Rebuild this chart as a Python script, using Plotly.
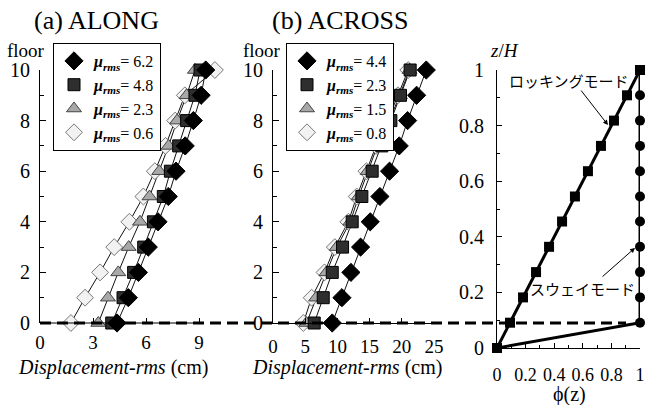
import plotly.graph_objects as go

W, H = 656, 405

floors = [0, 1, 2, 3, 4, 5, 6, 7, 8, 9, 10]

# (a) ALONG  -- displacement rms (cm)
mu_a = [6.2, 4.8, 2.3, 0.6]
along_dia = [4.36, 5.0, 5.57, 6.13, 6.68, 7.26, 7.7, 8.22, 8.68, 9.12, 9.38]
along_sq = [4.06, 4.7, 5.3, 5.87, 6.42, 6.98, 7.38, 7.85, 8.3, 8.77, 9.06]
along_tri = [3.3, 3.85, 4.43, 5.02, 5.66, 6.2, 6.75, 7.28, 7.76, 8.3, 8.77]
along_wht = [1.75, 2.55, 3.4, 4.2, 5.06, 5.85, 6.5, 7.1, 7.65, 8.2, 9.9]

# (b) ACROSS
mu_b = [4.4, 2.3, 1.5, 0.8]
across_dia = [9.2, 10.7, 12.1, 13.6, 15.1, 16.6, 18.1, 19.6, 20.9, 22.3, 23.8]
across_sq = [6.4, 7.8, 9.2, 10.8, 12.3, 13.8, 15.4, 16.9, 18.3, 19.8, 21.3]
across_tri = [5.2, 6.7, 8.3, 9.9, 12.0, 13.3, 14.7, 16.2, 18.1, 19.7, 21.2]
across_wht = [4.7, 6.0, 8.0, 9.6, 11.7, 13.0, 14.5, 16.0, 17.8, 19.4, 21.0]

# (c) mode shapes
z_levels = [0, 0.091, 0.182, 0.273, 0.364, 0.455, 0.545, 0.636, 0.727, 0.818, 0.909, 1.0]
phi_rocking = [0, 0.091, 0.182, 0.273, 0.364, 0.455, 0.545, 0.636, 0.727, 0.818, 0.909, 1.0]
phi_sway = [0, 1, 1, 1, 1, 1, 1, 1, 1, 1, 1, 1]

ticks_a = [0, 3, 6, 9]
ticks_b = [0, 5, 10, 15, 20, 25]

SERIF = "Liberation Serif"
JP = "Noto Sans CJK JP"

styles = [  # drawn bottom -> top : white, tri, square, diamond
    dict(symbol="diamond", size=13, color="#f2f2f2", line=dict(color="#777777", width=1)),
    dict(symbol="triangle-up", size=13, color="#a8a8a8", line=dict(color="#444444", width=1)),
    dict(symbol="square", size=12, color="#2e2e2e", line=dict(color="#000000", width=1)),
    dict(symbol="diamond", size=14, color="#000000", line=dict(color="#000000", width=1)),
]


def lab(mu):
    return "<b><i>μ</i></b><sub><b><i>rms</i></b></sub>= %s" % mu


fig = go.Figure()

panels = [
    ("x", "y", "legend", [along_wht, along_tri, along_sq, along_dia], mu_a[::-1]),
    ("x2", "y2", "legend2", [across_wht, across_tri, across_sq, across_dia], mu_b[::-1]),
]

# connecting lines first
for xa, ya, lg, series, mus in panels:
    for s in series:
        fig.add_trace(go.Scatter(x=s, y=floors, mode="lines", xaxis=xa, yaxis=ya,
                                 line=dict(color="#111111", width=1), showlegend=False,
                                 hoverinfo="skip"))
# markers
for xa, ya, lg, series, mus in panels:
    for s, st, mu in zip(series, styles, mus):
        fig.add_trace(go.Scatter(x=s, y=floors, mode="markers", xaxis=xa, yaxis=ya,
                                 marker=st, name=lab(mu), legend=lg, cliponaxis=False))

# panel (c)
fig.add_trace(go.Scatter(x=phi_sway, y=z_levels, mode="lines+markers", xaxis="x3", yaxis="y3",
                         line=dict(color="black", width=3),
                         marker=dict(symbol="circle", size=10, color="black"),
                         showlegend=False, cliponaxis=False))
fig.add_trace(go.Scatter(x=phi_rocking, y=z_levels, mode="lines+markers", xaxis="x3", yaxis="y3",
                         line=dict(color="black", width=3),
                         marker=dict(symbol="square", size=10, color="black"),
                         showlegend=False, cliponaxis=False))

px_a = 53.0 / 3  # px per cm
px_b = 32.2 / 5
xa_left = 40
xb_left = 273
ya_dom = [1 - 323 / H, 1 - 70 / H]
yc_dom = [1 - 348 / H, 1 - 70 / H]
range_a = [0, 10.3]

tickfont = dict(family=SERIF, size=19, color="black")
ytickfont = dict(family=SERIF, size=20, color="black")

common_x = dict(showgrid=False, zeroline=False, ticks="inside", ticklen=5, tickcolor="black",
                tickfont=tickfont, tickangle=0, ticklabelstandoff=6, automargin=False)
common_y = dict(showgrid=False, zeroline=False, ticks="inside", ticklen=6, tickcolor="black",
                tickfont=ytickfont, showline=True, linecolor="black", linewidth=1,
                minor=dict(dtick=1, ticks="inside", ticklen=4, tickcolor="black"),
                ticklabelstandoff=5, automargin=False)

legend_common = dict(xanchor="left", yanchor="top", bgcolor="white",
                     bordercolor="black", borderwidth=1, traceorder="reversed",
                     font=dict(family=SERIF, size=16, color="black"), itemwidth=30,
                     tracegroupgap=0)

fig.update_layout(
    width=W, height=H, margin=dict(l=0, r=0, t=0, b=0, autoexpand=False),
    paper_bgcolor="white", plot_bgcolor="rgba(0,0,0,0)",
    xaxis=dict(domain=[xa_left / W, (xa_left + range_a[1] * px_a) / W], range=range_a,
               tickvals=ticks_a, showline=False, anchor="y", **common_x),
    yaxis=dict(domain=ya_dom, range=[0, 10], dtick=2, anchor="x", **common_y),
    xaxis2=dict(domain=[xb_left / W, (xb_left + 25 * px_b) / W], range=[0, 25],
                tickvals=ticks_b, showline=True, linecolor="black", linewidth=1,
                anchor="y2", **common_x),
    yaxis2=dict(domain=ya_dom, range=[0, 10], dtick=2, anchor="x2", **common_y),
    xaxis3=dict(domain=[497 / W, 640 / W], range=[0, 1], dtick=0.2, showline=True,
                linecolor="black", linewidth=1, anchor="y3", automargin=False,
                showgrid=False, zeroline=False, ticks="inside", ticklen=5, tickcolor="black",
                tickfont=dict(family=SERIF, size=18, color="black"), tickangle=0,
                ticklabelstandoff=10,
                minor=dict(dtick=0.1, ticks="inside", ticklen=3, tickcolor="black")),
    yaxis3=dict(domain=yc_dom, range=[0, 1], dtick=0.2, anchor="x3", showline=True,
                linecolor="black", linewidth=1, showgrid=False, zeroline=False,
                ticks="inside", ticklen=5, tickcolor="black", automargin=False,
                tickfont=dict(family=SERIF, size=20, color="black"), ticklabelstandoff=8,
                minor=dict(dtick=0.1, ticks="inside", ticklen=3, tickcolor="black")),
    legend=dict(x=53 / W, y=1 - 43 / H, **legend_common),
    legend2=dict(x=286 / W, y=1 - 43 / H, **legend_common),
)

# axis line of panel (a) spanning the labelled tick range
fig.add_shape(type="line", xref="x", yref="paper", x0=ticks_a[0], x1=ticks_a[-1],
              y0=ya_dom[0], y1=ya_dom[0], line=dict(color="black", width=1), layer="above")
# dashed ground level line (floor 0) across all panels
fig.add_shape(type="line", xref="paper", yref="paper", x0=40 / W, x1=626 / W,
              y0=ya_dom[0], y1=ya_dom[0],
              line=dict(color="black", width=3, dash="11px,6px"), layer="above")


def ann(text, x, y, size, family=SERIF, **kw):
    fig.add_annotation(text=text, x=x / W, y=1 - y / H, xref="paper", yref="paper",
                       xanchor="center", yanchor="middle", showarrow=False,
                       font=dict(family=family, size=size, color="black"), **kw)


ann("(a) ALONG", 96, 20, 26)
ann("(b) ACROSS", 340, 20, 26)
ann("floor", 26, 50, 19)
ann("floor", 262, 50, 19)
ann("<i>Displacement-rms</i> (cm)", 113, 367, 20)
ann("<i>Displacement-rms</i> (cm)", 347, 367, 20)
ann("<i>z</i>/<i>H</i>", 504, 50, 19)
ann("ϕ(z)", 569, 394, 20)
ann("ロッキングモード", 569, 80, 15, family=JP)
ann("スウェイモード", 582, 288, 15, family=JP)

fig.add_annotation(x=0.776, y=0.802, xref="x3", yref="y3", text="", showarrow=True,
                   ax=-28, ay=-36, arrowhead=2, arrowsize=1, arrowwidth=1, arrowcolor="black")
fig.add_annotation(x=0.965, y=0.36, xref="x3", yref="y3", text="", showarrow=True,
                   ax=-34, ay=30, arrowhead=2, arrowsize=1, arrowwidth=1, arrowcolor="black")

fig.write_html("out.html", config={"displayModeBar": False},
               post_script="document.body.style.margin='0';")
